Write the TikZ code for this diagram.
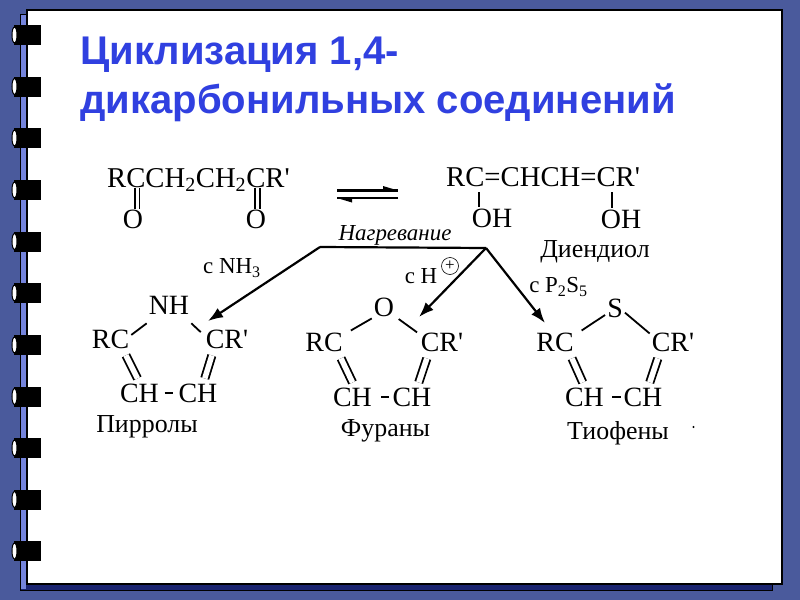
\documentclass[tikz,border=0pt]{standalone}
\usepackage{fontspec}
\setmainfont{Liberation Serif}
\newfontfamily\titlefont{Liberation Sans}
\usepackage{tikz}
\usetikzlibrary{calc,arrows.meta,positioning}
\definecolor{slideblue}{HTML}{4A5A9C}
\definecolor{striplight}{HTML}{7484DC}
\definecolor{titleblue}{HTML}{3040E0}
\definecolor{shadownavy}{HTML}{1A2470}
\newcommand{\crprime}{CR\textquotesingle}
\tikzset{
	headline/.style={anchor=base west,inner sep=0bp,text=titleblue,font=\titlefont\bfseries\fontsize{40.2}{44}\selectfont},
	atom/.style={inner xsep=2bp,inner ysep=5bp,font=\fontsize{28}{32}\selectfont},
	hetero/.style={atom,inner ysep=9bp},
	formula/.style={anchor=base west,inner sep=0bp,font=\fontsize{28.8}{32}\selectfont},
	caption/.style={inner sep=1bp,font=\fontsize{26}{30}\selectfont},
	cond/.style={inner sep=1bp,font=\fontsize{23}{26}\selectfont},
	bond/.style={line width=1.8bp},
	dblbond/.style={line width=1.8bp,double=white,double distance=5.5bp,shorten <=2bp},
	cobond/.style={line width=1.8bp,double=white,double distance=3bp,shorten >=-5bp},
	ccbond/.style={line width=2.2bp,shorten <=3.5bp,shorten >=3.5bp},
	route/.style={line width=2.2bp},
	routearrow/.style={line width=2.2bp,-{Latex[length=15bp,width=11bp]}},
	halfarrow/.style={line width=2.2bp}
}
\begin{document}
\begin{tikzpicture}[x=1bp,y=1bp]
	\useasboundingbox (0bp,0bp) rectangle (800bp,-600bp);
	\fill [slideblue] (0bp,0bp) rectangle (800bp,-600bp);

	% notebook page
	\filldraw [fill=shadownavy,draw=black,line width=1bp] (20bp,-14bp) rectangle (772bp,-590bp);
	\fill [striplight] (21bp,-15bp) rectangle (26bp,-589bp);
	\filldraw [fill=white,draw=black,line width=2bp] (27bp,-10bp) rectangle (782bp,-584bp);

	% binder rings
	\foreach \ringy in {35,86.5,138,190,241.5,293,345,396.5,448,499.5,551} {
		\fill [black] (14bp,-\ringy bp-10bp) rectangle (41bp,-\ringy bp+10bp);
		\filldraw [fill=white,draw=black,line width=1bp] (14.5bp,-\ringy bp) ellipse (2.5bp and 8bp);
	}

	% title
	\node (title1) at (80bp,-64.5bp) [headline] {Циклизация 1,4-};
	\node (title2) at (80bp,-113bp) [headline] {дикарбонильных соединений};

	% starting compounds
	\node (diketone) at (107bp,-187bp) [formula] {RCCH\textsubscript{2}CH\textsubscript{2}\crprime};
	\coordinate (co1) at (137bp,-188bp);
	\coordinate (co2) at (257.5bp,-188bp);
	\node (o1) at (133bp,-219bp) [atom] {O};
	\node (o2) at (256bp,-219bp) [atom] {O};
	\draw [cobond] (co1) to (co1 |- o1.north);
	\draw [cobond] (co2) to (co2 |- o2.north);

	\coordinate (eqa) at (337bp,-190.5bp);
	\coordinate (eqb) at (398bp,-190.5bp);
	\coordinate (eqc) at (398bp,-198bp);
	\coordinate (eqd) at (337bp,-198bp);
	\draw [halfarrow] (eqa) to (eqb);
	\draw [halfarrow] (eqc) to (eqd);
	\fill (eqb) -- ++(-15bp,4.5bp) -- ++(0bp,-4.5bp) -- cycle;
	\fill (eqd) -- ++(15bp,-4.5bp) -- ++(0bp,4.5bp) -- cycle;

	\node (dienol) at (446bp,-186bp) [formula] {RC=CHCH=\crprime};
	\coordinate (ch1) at (479bp,-192bp);
	\coordinate (ch2) at (612bp,-192bp);
	\node (oh1) at (492bp,-218bp) [atom] {OH};
	\node (oh2) at (621bp,-219bp) [atom] {OH};
	\draw [bond,shorten >=-4bp] (ch1) to (ch1 |- oh1.north);
	\draw [bond,shorten >=-4bp] (ch2) to (ch2 |- oh2.north);
	\node (dienollabel) at (595bp,-252bp) [caption] {Диендиол};

	% routes
	\coordinate (split1) at (320bp,-247bp);
	\coordinate (split2) at (486bp,-248bp);
	\draw [route] (split1) to (split2);
	\node (heating) at (395bp,-235bp) [cond,font=\itshape\fontsize{23}{26}\selectfont] {Нагревание};
	\node (condnh) at (232bp,-268bp) [cond] {с NH\textsubscript{3}};
	\node (condh) at (421bp,-276bp) [cond] {с H};
	\node (plus) at (450bp,-266bp) [circle,draw,line width=0.6bp,inner sep=0.5bp,minimum size=17bp,font=\fontsize{17}{17}\selectfont] {+};
	\node (condps) at (558.5bp,-287bp) [cond] {с P\textsubscript{2}S\textsubscript{5}};

	% pyrroles
	\node (rc1) at (110.5bp,-339bp) [atom] {RC};
	\node (nh1) at (169bp,-305bp) [hetero] {NH};
	\node (cr1) at (227bp,-339bp) [atom] {\crprime};
	\node (cha1) at (139.5bp,-393bp) [atom] {CH};
	\node (chb1) at (198bp,-393bp) [atom] {CH};
	\node (pyrrole) at (147bp,-427bp) [caption] {Пирролы};
	\draw [bond] (rc1.11) to (nh1.south west);
	\draw [bond,shorten >=4bp] (nh1.south east) to (cr1.170);
	\draw [dblbond] (rc1.-45) to (cha1.98);
	\draw [dblbond] (cr1.-135) to (chb1.65);
	\draw [ccbond] (cha1) to (chb1);

	% furans
	\node (rc2) at (324bp,-342bp) [atom] {RC};
	\node (o3) at (384bp,-307bp) [hetero] {O};
	\node (cr2) at (442bp,-342bp) [atom] {\crprime};
	\node (cha2) at (352.5bp,-397bp) [atom] {CH};
	\node (chb2) at (412bp,-397bp) [atom] {CH};
	\node (furan) at (385.5bp,-431bp) [caption] {Фураны};
	\draw [bond,shorten <=7bp] (rc2.21) to (o3.-137);
	\draw [bond,shorten <=3bp,shorten >=2bp] (o3.-40) to (cr2.160);
	\draw [dblbond] (rc2.-42) to (cha2.90);
	\draw [dblbond] (cr2.-135) to (chb2.65);
	\draw [ccbond,shorten <=7bp,shorten >=1bp] (cha2) to (chb2);

	% thiophenes
	\node (rc3) at (555bp,-342bp) [atom] {RC};
	\node (s3) at (615bp,-308bp) [hetero] {S};
	\node (cr3) at (673bp,-342bp) [atom] {\crprime};
	\node (cha3) at (584.5bp,-397bp) [atom] {CH};
	\node (chb3) at (643bp,-397bp) [atom] {CH};
	\node (thiophene) at (618bp,-433bp) [caption] {Тиофены};
	\draw [bond,shorten <=7bp] (rc3.20) to (s3.-145);
	\draw [bond] (s3.-25) to (cr3.160);
	\draw [dblbond] (rc3.-42) to (cha3.97);
	\draw [dblbond] (cr3.-135) to (chb3.65);
	\draw [ccbond,shorten <=6bp,shorten >=0bp] (cha3) to (chb3);
	\node (dot) at (693.5bp,-427bp) [circle,fill=black,inner sep=0.8bp] {};

	\coordinate (tipa) at (208bp,-321bp);
	\coordinate (tipb) at (419bp,-317bp);
	\coordinate (tipc) at (545bp,-323bp);
	\draw [routearrow] (split1) to (tipa);
	\draw [routearrow] (split2) to (tipb);
	\draw [routearrow] (split2) to (tipc);
\end{tikzpicture}
\end{document}
